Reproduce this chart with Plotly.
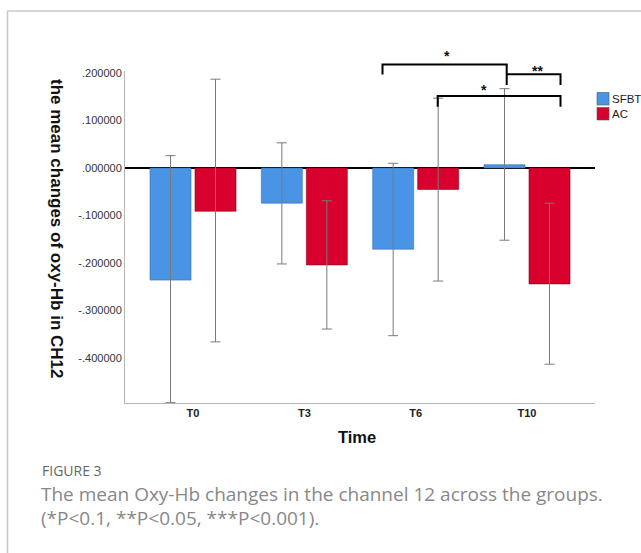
import plotly.graph_objects as go

# ---- data ----
categories = ["T0", "T3", "T6", "T10"]
sfbt_mean = [-0.236, -0.074, -0.171, 0.007]
sfbt_upper = [0.026, 0.053, 0.010, 0.167]
sfbt_lower = [-0.494, -0.202, -0.353, -0.152]
ac_mean = [-0.091, -0.204, -0.045, -0.244]
ac_upper = [0.187, -0.069, 0.147, -0.074]
ac_lower = [-0.366, -0.339, -0.238, -0.413]

y_tickvals = [0.2, 0.1, 0.0, -0.1, -0.2, -0.3, -0.4]
y_ticktext = [".200000", ".100000", ".000000", "-.100000", "-.200000", "-.300000", "-.400000"]

# ---- layout geometry (pixels) ----
W, H = 641, 553
L, R, T, B = 125, 46, 71, 150
PW, PH = W - L - R, H - T - B


def px(x):
    return (x - L) / PW


def py(y):
    return (H - B - y) / PH


BLUE = "#4a94e6"
RED = "#d8002c"


def err(mean, up, lo):
    return dict(type="data", symmetric=False,
                array=[u - m for m, u in zip(mean, up)],
                arrayminus=[m - l for m, l in zip(mean, lo)],
                color="#7a7a7a", thickness=1, width=5)


fig = go.Figure()
fig.add_trace(go.Bar(name="SFBT", x=categories, y=sfbt_mean,
                     marker=dict(color=BLUE, line=dict(color="#3a6ea8", width=0.6)),
                     error_y=err(sfbt_mean, sfbt_upper, sfbt_lower), showlegend=False))
fig.add_trace(go.Bar(name="AC", x=categories, y=ac_mean,
                     marker=dict(color=RED, line=dict(color="#8a0020", width=0.6)),
                     error_y=err(ac_mean, ac_upper, ac_lower), showlegend=False))

shapes = []
annotations = []

# frame around figure
shapes.append(dict(type="line", xref="paper", yref="paper", x0=px(7), x1=px(645), y0=py(11), y1=py(11),
                   line=dict(color="#c8c8c8", width=1.5)))
shapes.append(dict(type="line", xref="paper", yref="paper", x0=px(7.5), x1=px(7.5), y0=py(11), y1=py(556),
                   line=dict(color="#c8c8c8", width=1.5)))


# significance brackets (x in category units, y in pixels via paper)
def xcat(pxv):
    return (pxv - 193) / 111.33


def bracket(x0p, x1p, ytop, yl, yr, label, lx, ly):
    shapes.append(dict(type="path", xref="x", yref="paper",
                       path=f"M {xcat(x0p)},{py(yl)} L {xcat(x0p)},{py(ytop)} L {xcat(x1p)},{py(ytop)} L {xcat(x1p)},{py(yr)}",
                       line=dict(color="black", width=2)))
    annotations.append(dict(xref="x", yref="paper", x=xcat(lx), y=py(ly), text=label, showarrow=False,
                            font=dict(size=14, color="#111", family="Liberation Sans", weight="bold"),
                            xanchor="center", yanchor="middle"))


bracket(382.5, 506.7, 64.5, 74.5, 85, "*", 447.3, 56)
bracket(506.7, 560.5, 74.3, 74.3, 85, "**", 537.3, 71)
bracket(437.7, 560.5, 96, 106.7, 106.7, "*", 484.3, 90)

# manual legend
for lbl, col, yc in [("SFBT", BLUE, 98.5), ("AC", RED, 113.5)]:
    shapes.append(dict(type="rect", xref="paper", yref="paper", x0=px(597), x1=px(609),
                       y0=py(yc + 6.5), y1=py(yc - 6), fillcolor=col, line=dict(color="#555", width=0.6)))
    annotations.append(dict(xref="paper", yref="paper", x=px(610), y=py(yc), text=lbl, showarrow=False,
                            xanchor="left", yanchor="middle",
                            font=dict(size=11.5, color="#222", family="Liberation Sans")))

# axis titles
annotations.append(dict(xref="paper", yref="paper", x=px(57), y=py(228), text="the mean changes of oxy-Hb in CH12",
                        textangle=90, showarrow=False, xanchor="center", yanchor="middle",
                        font=dict(size=17, color="#111", family="Liberation Sans", weight="bold")))
annotations.append(dict(xref="paper", yref="paper", x=px(357), y=py(437), text="Time", showarrow=False,
                        xanchor="center", yanchor="middle",
                        font=dict(size=16.5, color="#111", family="Liberation Sans", weight="bold")))

# caption
annotations.append(dict(xref="paper", yref="paper", x=px(40), y=py(470), text="FIGURE 3", showarrow=False,
                        xanchor="left", yanchor="middle",
                        font=dict(size=14, color="#666", family="Open Sans")))
annotations.append(dict(xref="paper", yref="paper", x=px(39), y=py(494),
                        text="The mean Oxy-Hb changes in the channel 12 across the groups.", showarrow=False,
                        xanchor="left", yanchor="middle",
                        font=dict(size=19, color="#888", family="Open Sans")))
annotations.append(dict(xref="paper", yref="paper", x=px(39), y=py(518),
                        text="(*P<0.1, **P<0.05, ***P<0.001).", showarrow=False,
                        xanchor="left", yanchor="middle",
                        font=dict(size=19, color="#888", family="Open Sans")))

fig.update_layout(
    width=W, height=H,
    margin=dict(l=L, r=R, t=T, b=B, pad=0),
    paper_bgcolor="white", plot_bgcolor="white",
    barmode="group", bargap=0.1916, bargroupgap=0.089,
    shapes=shapes, annotations=annotations,
    showlegend=False,
    font=dict(family="Liberation Sans", color="#222"),
    xaxis=dict(type="category", range=[-0.6108, 3.6108], showgrid=False, zeroline=False,
               showline=True, linecolor="#b5b5b5", linewidth=1, ticks="",
               tickfont=dict(size=11, color="#222", family="Liberation Sans", weight="bold")),
    yaxis=dict(range=[-0.4947, 0.2042], tickvals=y_tickvals, ticktext=y_ticktext,
               showgrid=False, zeroline=True, zerolinecolor="black", zerolinewidth=2,
               showline=True, linecolor="#b5b5b5", linewidth=1, ticks="",
               tickfont=dict(size=11, color="#333", family="Liberation Sans")),
)

fig.write_html("out.html", config={"displayModeBar": False},
               post_script="document.body.style.margin='0px';document.body.style.overflow='hidden';")
